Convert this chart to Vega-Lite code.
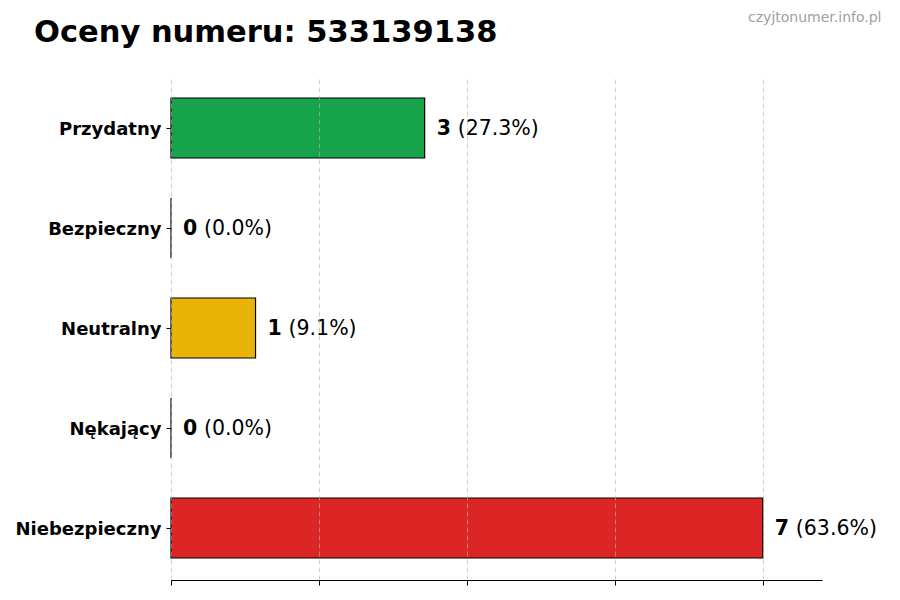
{
  "$schema": "https://vega.github.io/schema/vega-lite/v6.json",
  "width": 651,
  "height": 504,
  "autosize": "none",
  "padding": {"left": 171, "top": 76, "right": 78, "bottom": 20},
  "background": "white",
  "title": {
    "text": "Oceny numeru: 533139138",
    "anchor": "start",
    "frame": "group",
    "dx": -137,
    "offset": -62,
    "baseline": "alphabetic",
    "font": "DejaVu Sans",
    "fontSize": 30.5,
    "fontWeight": "bold",
    "color": "black"
  },
  "config": {"view": {"stroke": null}, "font": "DejaVu Sans"},
  "data": {
    "values": [
      {"rating": "Przydatny", "count": 3, "pctLabel": "(27.3%)"},
      {"rating": "Bezpieczny", "count": 0, "pctLabel": "(0.0%)"},
      {"rating": "Neutralny", "count": 1, "pctLabel": "(9.1%)"},
      {"rating": "Nękający", "count": 0, "pctLabel": "(0.0%)"},
      {"rating": "Niebezpieczny", "count": 7, "pctLabel": "(63.6%)"}
    ]
  },
  "encoding": {
    "y": {
      "field": "rating",
      "type": "nominal",
      "sort": null,
      "scale": {"paddingInner": 0.4, "paddingOuter": 0.22},
      "axis": {
        "title": "czyjtonumer.info.pl",
        "titleAngle": 0,
        "titleX": 710,
        "titleY": -59,
        "titleAlign": "right",
        "titleBaseline": "middle",
        "titleFontSize": 14,
        "titleFontWeight": "normal",
        "titleColor": "#a0a0a0",
        "labelFontSize": 18,
        "labelFontWeight": "bold",
        "labelColor": "black",
        "labelPadding": 5,
        "labelOffset": 1.5,
        "domain": false,
        "tickColor": "black",
        "tickSize": 5,
        "grid": false
      }
    }
  },
  "layer": [
    {
      "mark": {"type": "bar", "stroke": "black", "strokeWidth": 1.2},
      "encoding": {
        "x": {
          "field": "count",
          "type": "quantitative",
          "scale": {"domain": [0, 7.7], "nice": false},
          "axis": {
            "values": [0, 1.75, 3.5, 5.25, 7],
            "labels": false,
            "title": null,
            "domainColor": "black",
            "tickColor": "black",
            "tickSize": 5,
            "gridDash": [5, 3],
            "gridColor": "#b0b0b0",
            "gridOpacity": 0.6,
            "zindex": 1
          }
        },
        "color": {
          "field": "rating",
          "type": "nominal",
          "scale": {
            "domain": ["Przydatny", "Bezpieczny", "Neutralny", "Nękający", "Niebezpieczny"],
            "range": ["#16a34a", "#2563eb", "#eab308", "#f97316", "#dc2626"]
          },
          "legend": null
        }
      }
    },
    {
      "mark": {"type": "text", "align": "left", "baseline": "middle", "dx": 12, "dy": 1, "fontSize": 20.5, "fontWeight": "bold", "color": "black"},
      "encoding": {
        "x": {"field": "count", "type": "quantitative"},
        "text": {"field": "count", "type": "quantitative"}
      }
    },
    {
      "mark": {"type": "text", "align": "left", "baseline": "middle", "dx": 33, "dy": 1, "fontSize": 20.5, "color": "black"},
      "encoding": {
        "x": {"field": "count", "type": "quantitative"},
        "text": {"field": "pctLabel", "type": "nominal"}
      }
    }
  ]
}
